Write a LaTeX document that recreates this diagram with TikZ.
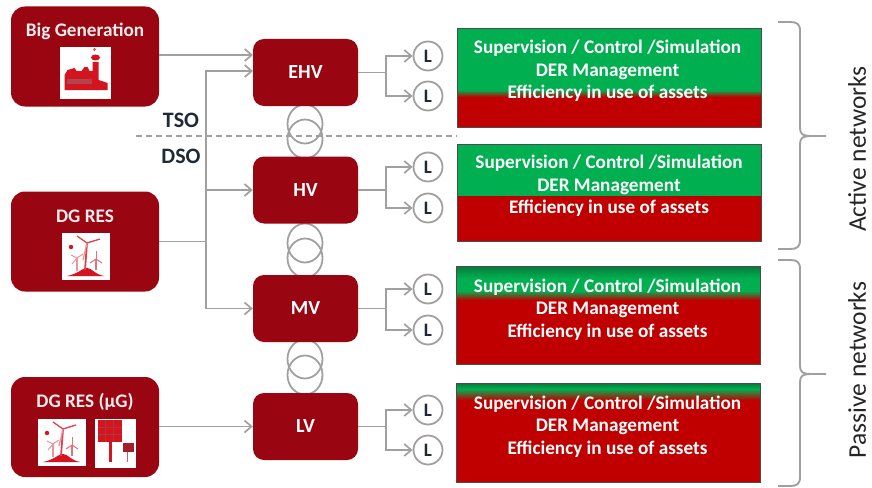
\documentclass[tikz,border=0pt]{standalone}
\usepackage{fontspec}
\setmainfont{Carlito}
\usepackage{tikz}
\usetikzlibrary{arrows.meta}
\usetikzlibrary{shapes.geometric}

\definecolor{boxred}{HTML}{990511}
\definecolor{netred}{HTML}{C00000}
\definecolor{netgreen}{HTML}{00AF50}
\definecolor{darkgreen}{HTML}{067A3A}
\definecolor{iconred}{HTML}{D4141E}
\definecolor{linegrey}{HTML}{A0A0A0}
\definecolor{textdark}{HTML}{1F2A36}

\tikzset{
  pics/factoryicon/.style={code={
    \fill[white] (-25.5,-26) rectangle (25.5,26);
    \fill[iconred] (-21,17) -- (-21,2) -- (-18,-3) -- (-11,-5) -- (-9,-2) -- (-4,-2) -- (-1,-6) -- (2,-6) -- (4,-2)
      -- (7,-2) -- (7,-11) -- (13,-11) -- (13,7) -- (22,10) -- (22,17) -- cycle;
    \fill[iconred] (10,-15.5) ellipse (4.5 and 3);
    \fill[iconred!70] (9,-23.5) circle (1.6);
    \fill[boxred!75] (-19,6) rectangle (6,11);
  }},
  pics/windicon/.style={code={
    \fill[white] (-24,-23.5) rectangle (24,23.5);
    \fill[iconred] (-19,20) .. controls (-8,18) and (-4,12) .. (1,12) .. controls (6,12) and (8,18) .. (18,20) -- cycle;
    \draw[iconred!80,line width=1.8pt] (1,-13) -- (-1,14);
    \draw[iconred!80,line width=1.3pt] (1,-13) -- (-9,-20);
    \draw[iconred!80,line width=1.3pt] (1,-13) -- (14,-17);
    \draw[iconred!45,line width=1.3pt] (1,-13) -- (-3,4);
    \fill[iconred] (-15,-9) circle (2.2);
    \draw[iconred!45,line width=1.5pt] (-9,2) -- (-9,15);
    \draw[iconred!45,line width=1pt] (-9,2) -- (-15,-1);
    \draw[iconred!45,line width=1pt] (-9,2) -- (-3,-2);
    \draw[iconred!45,line width=1pt] (-9,2) -- (-14,8);
    \draw[iconred!60,line width=1.3pt] (10,3) -- (10,14);
    \draw[iconred!60,line width=1pt] (10,3) -- (10,-5);
    \draw[iconred!60,line width=1pt] (10,3) -- (4,7);
    \draw[iconred!60,line width=1pt] (10,3) -- (16,7);
  }},
  pics/solaricon/.style={code={
    \fill[white] (-20.5,-24.5) rectangle (20.5,24.5);
    \draw[iconred,line width=3pt] (-5,-2) -- (-5,19);
    \fill[iconred] (-18,-23) rectangle (6,-1);
    \draw[boxred!80,line width=1pt] (-18,-16) -- (6,-16) (-18,-9) -- (6,-9) (-10,-23) -- (-10,-1) (-2,-23) -- (-2,-1);
    \draw[iconred!70,line width=1.6pt] (12,8) -- (12,19);
    \fill[boxred!90] (7,0) rectangle (18,9);
  }},
}

\begin{document}
\begin{tikzpicture}
    [
    x=1pt,y=-1pt,
    source/.style={rectangle,rounded corners=14pt,fill=boxred,minimum width=148pt,minimum height=100pt,inner sep=0pt},
    level/.style={rectangle,rounded corners=11pt,fill=boxred,minimum width=105pt,minimum height=67pt,inner sep=0pt,
      text=white,font=\fontsize{20}{22}\selectfont\bfseries},
    boxlabel/.style={text=white!92!boxred,inner sep=0pt,font=\fontsize{19.2}{21}\selectfont\bfseries},
    load/.style={circle,draw=linegrey,line width=1.8pt,fill=white,minimum size=29pt,inner sep=0pt,
      text=textdark,font=\fontsize{19}{20}\selectfont\bfseries},
    coil/.style={ellipse,draw=linegrey,line width=1.8pt,minimum width=35pt,minimum height=39pt,inner sep=0pt},
    statusbox/.style={rectangle,draw=black!70,line width=0.8pt,minimum width=304pt,inner sep=0pt},
    statustext/.style={text=white,align=center,inner sep=0pt,font=\fontsize{19.2}{22.5}\selectfont\bfseries},
    sidelabel/.style={rotate=90,text=black!85,inner sep=0pt,font=\fontsize{25.5}{28}\selectfont},
    zone/.style={text=textdark,inner sep=0pt,font=\fontsize{22}{24}\selectfont\bfseries},
    link/.style={draw=linegrey,line width=1.9pt},
    linkarrow/.style={link,-{Straight Barb[length=7pt,width=12pt,line width=1.7pt]}},
    brace/.style={draw=linegrey,line width=1.9pt},
    ]
    \useasboundingbox (0,0) rectangle (872,487);

    % transformers
    \node (coil1) at (305,124) [coil] {};
    \node (coil2) at (305,139) [coil] {};
    \node (coil3) at (305,243) [coil] {};
    \node (coil4) at (305,258) [coil] {};
    \node (coil5) at (305,359) [coil] {};
    \node (coil6) at (305,375) [coil] {};

    % sources
    \node (biggen) at (85,56.5) [source] {};
    \node (dgres) at (85,241.5) [source] {};
    \node (dgmicro) at (85,427) [source] {};
    \node (biggenlabel) at (85,31) [boxlabel] {Big Generation};
    \node (dgreslabel) at (85,216) [boxlabel] {DG RES};
    \node (dgmicrolabel) at (85,402) [boxlabel] {DG RES (µG)};
    \pic at (85.5,73) {factoryicon};
    \pic at (86,256) {windicon};
    \pic at (62,442) {windicon};
    \pic at (115.5,443) {solaricon};

    % voltage levels
    \node (ehv) at (305.5,72.5) [level] {EHV};
    \node (hv) at (305.5,190) [level] {HV};
    \node (mv) at (305.5,308.5) [level] {MV};
    \node (lv) at (305.5,426.5) [level] {LV};

    % loads
    \node (l1) at (428,56) [load] {L};
    \node (l2) at (428,96) [load] {L};
    \node (l3) at (428,167) [load] {L};
    \node (l4) at (428,208) [load] {L};
    \node (l5) at (428,289) [load] {L};
    \node (l6) at (428,330) [load] {L};
    \node (l7) at (428,410) [load] {L};
    \node (l8) at (428,450) [load] {L};

    % feeders on the left
    \coordinate (ehvin1) at (253,55);
    \coordinate (ehvin2) at (253,71);
    \coordinate (bus) at (206,241.5);
    \draw [linkarrow] (biggen.east |- ehvin1) to (ehvin1);
    \draw [link] (dgres.east) to (bus);
    \draw [linkarrow] (bus) |- (ehvin2);
    \draw [linkarrow] (bus) |- (hv.west);
    \draw [linkarrow] (bus) |- (mv.west);
    \draw [linkarrow] (dgmicro.east |- lv.west) to (lv.west);

    % feeders on the right
    \coordinate (split1) at (386,72.5);
    \coordinate (split2) at (386,190);
    \coordinate (split3) at (386,308.5);
    \coordinate (split4) at (386,426.5);
    \draw [link] (ehv.east) to (split1);
    \draw [link] (hv.east) to (split2);
    \draw [link] (mv.east) to (split3);
    \draw [link] (lv.east) to (split4);
    \draw [linkarrow] (split1) |- (l1.west);
    \draw [linkarrow] (split1) |- (l2.west);
    \draw [linkarrow] (split2) |- (l3.west);
    \draw [linkarrow] (split2) |- (l4.west);
    \draw [linkarrow] (split3) |- (l5.west);
    \draw [linkarrow] (split3) |- (l6.west);
    \draw [linkarrow] (split4) |- (l7.west);
    \draw [linkarrow] (split4) |- (l8.west);

    % TSO and DSO
    \coordinate (dash1) at (136,136);
    \coordinate (dash2) at (457,136);
    \draw [draw=linegrey,line width=1.7pt,dash pattern=on 6pt off 4pt] (dash1) to (dash2);
    \node (tso) at (181,120) [zone] {TSO};
    \node (dso) at (181,156) [zone] {DSO};

    % status boxes
    \fill [netgreen] (457,28) rectangle (761,90);
    \shade [top color=netgreen,bottom color=netred] (457,90) rectangle (761,97);
    \fill [netred] (457,97) rectangle (761,127);
    \fill [netgreen] (457,144) rectangle (761,196);
    \fill [netred] (457,196) rectangle (761,241);
    \shade [top color=darkgreen,bottom color=netgreen] (456,266) rectangle (760,278);
    \fill [netgreen] (456,278) rectangle (760,291);
    \shade [top color=netgreen,bottom color=netred] (456,291) rectangle (760,300);
    \fill [netred] (456,300) rectangle (760,364);
    \shade [top color=darkgreen,bottom color=netgreen] (456,383) rectangle (760,389);
    \shade [top color=netgreen,bottom color=netred] (456,389) rectangle (760,400);
    \fill [netred] (456,400) rectangle (760,482);
    \node (net1) at (609,77.5) [statusbox,minimum height=99pt] {};
    \node (net2) at (609,192.5) [statusbox,minimum height=97pt] {};
    \node (net3) at (608,315) [statusbox,minimum height=98pt] {};
    \node (net4) at (608,432.5) [statusbox,minimum height=99pt] {};
    \node (text1) at (607.5,71) [statustext] {Supervision / Control /Simulation\\DER Management\\Efficiency in use of assets};
    \node (text2) at (609,186) [statustext] {Supervision / Control /Simulation\\DER Management\\Efficiency in use of assets};
    \node (text3) at (607.5,309.5) [statustext] {Supervision / Control /Simulation\\DER Management\\Efficiency in use of assets};
    \node (text4) at (607.5,426.5) [statustext] {Supervision / Control /Simulation\\DER Management\\Efficiency in use of assets};

    % braces
    \coordinate (active1) at (778,22);
    \coordinate (active2) at (778,249);
    \coordinate (activetip) at (826,136);
    \coordinate (passive1) at (778,260);
    \coordinate (passive2) at (778,486);
    \coordinate (passivetip) at (826,374);
    \draw [brace] (active1) -- (790,22) .. controls (797,22) and (800,24) .. (800,31) -- (800,128)
      .. controls (800,134) and (803,136) .. (810,136) -- (activetip);
    \draw [brace] (active2) -- (790,249) .. controls (797,249) and (800,247) .. (800,240) -- (800,144)
      .. controls (800,138) and (803,136) .. (810,136);
    \draw [brace] (passive1) -- (790,260) .. controls (797,260) and (800,262) .. (800,269) -- (800,366)
      .. controls (800,372) and (803,374) .. (810,374) -- (passivetip);
    \draw [brace] (passive2) -- (790,486) .. controls (797,486) and (800,484) .. (800,477) -- (800,382)
      .. controls (800,376) and (803,374) .. (810,374);
    \node (activelabel) at (857,149) [sidelabel] {Active networks};
    \node (passivelabel) at (857,370) [sidelabel] {Passive networks};
\end{tikzpicture}
\end{document}
